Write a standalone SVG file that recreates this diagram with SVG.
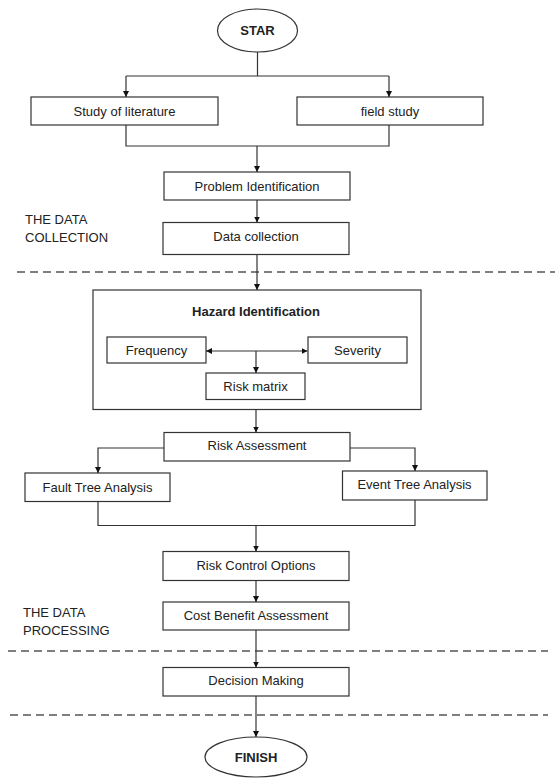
<svg xmlns="http://www.w3.org/2000/svg" width="555" height="778" viewBox="0 0 555 778">
<style>
.box{fill:#fff;stroke:#333;stroke-width:1.2}
.t{font-family:"Liberation Sans",Arial,sans-serif;font-size:13px;fill:#222;text-anchor:middle}
.b{font-weight:bold}
.lbl{font-family:"Liberation Sans",Arial,sans-serif;font-size:13px;fill:#222}
.c{fill:none;stroke:#333;stroke-width:1.2}
.dash{fill:none;stroke:#555;stroke-width:1.5;stroke-dasharray:8 5}
</style>
<defs>
<marker id="ah" viewBox="0 0 10 10" refX="10" refY="5" markerWidth="6" markerHeight="6" markerUnits="userSpaceOnUse" orient="auto-start-reverse">
<path d="M0,0 L10,5 L0,10 z" fill="#111"/>
</marker>
</defs>
<rect width="555" height="778" fill="#fff"/>
<g id="dividers">
<line class="dash" x1="17" y1="272" x2="555" y2="272"/>
<line class="dash" x1="8" y1="651" x2="548" y2="651"/>
<line class="dash" x1="10" y1="715" x2="548" y2="715"/>
</g>
<g id="labels">
<text class="lbl" x="25" y="224">THE DATA</text>
<text class="lbl" x="25" y="242">COLLECTION</text>
<text class="lbl" x="23" y="617">THE DATA</text>
<text class="lbl" x="23" y="635">PROCESSING</text>
</g>
<g id="start">
<ellipse class="box" cx="257.5" cy="30.5" rx="40" ry="21.5"/>
<text class="t b" x="257.5" y="35">STAR</text>
</g>
<g id="literature">
<rect class="box" x="31" y="97" width="187" height="28"/>
<text class="t" x="124.5" y="115.5">Study of literature</text>
</g>
<g id="field">
<rect class="box" x="297" y="97" width="186" height="28"/>
<text class="t" x="390" y="115.5">field study</text>
</g>
<g id="problem">
<rect class="box" x="164" y="172" width="186" height="28"/>
<text class="t" x="257" y="190.5">Problem Identification</text>
</g>
<g id="datacollection">
<rect class="box" x="163" y="222.5" width="186" height="32"/>
<text class="t" x="256" y="241">Data collection</text>
</g>
<g id="hazard">
<rect class="box" x="93" y="290" width="328" height="119.5"/>
<text class="t b" x="256" y="316">Hazard Identification</text>
</g>
<g id="frequency">
<rect class="box" x="107" y="337" width="99" height="26"/>
<text class="t" x="156.5" y="354.5">Frequency</text>
</g>
<g id="severity">
<rect class="box" x="308" y="337" width="99" height="26"/>
<text class="t" x="357.5" y="354.5">Severity</text>
</g>
<g id="riskmatrix">
<rect class="box" x="206" y="373" width="99" height="26.5"/>
<text class="t" x="255.5" y="391">Risk matrix</text>
</g>
<g id="riskassessment">
<rect class="box" x="164" y="432.5" width="186" height="28.5"/>
<text class="t" x="257" y="450">Risk Assessment</text>
</g>
<g id="fta">
<rect class="box" x="25" y="473" width="145" height="28.5"/>
<text class="t" x="97.5" y="491.5">Fault Tree Analysis</text>
</g>
<g id="eta">
<rect class="box" x="342.5" y="471" width="144.5" height="29"/>
<text class="t" x="414.5" y="489">Event Tree Analysis</text>
</g>
<g id="rco">
<rect class="box" x="163" y="551.5" width="186" height="29"/>
<text class="t" x="256" y="570">Risk Control Options</text>
</g>
<g id="cba">
<rect class="box" x="163" y="602" width="186" height="28"/>
<text class="t" x="256" y="620">Cost Benefit Assessment</text>
</g>
<g id="decision">
<rect class="box" x="163" y="667.5" width="186" height="28.5"/>
<text class="t" x="256" y="685">Decision Making</text>
</g>
<g id="finish">
<ellipse class="box" cx="256" cy="757" rx="51" ry="20"/>
<text class="t b" x="256" y="762">FINISH</text>
</g>
<g id="connectors">
<path class="c" d="M257.5,52 V76 M126,76 H389"/>
<path class="c" d="M126,76 V97" marker-end="url(#ah)"/>
<path class="c" d="M389,76 V97" marker-end="url(#ah)"/>
<path class="c" d="M126,125 V146 H389 V125"/>
<path class="c" d="M257,146 V172" marker-end="url(#ah)"/>
<path class="c" d="M257,200 V222.5" marker-end="url(#ah)"/>
<path class="c" d="M257,254.5 V290" marker-end="url(#ah)"/>
<path class="c" d="M206,351 H307.5" marker-start="url(#ah)" marker-end="url(#ah)"/>
<path class="c" d="M256,351 V373" marker-end="url(#ah)"/>
<path class="c" d="M256,409.5 V432.5" marker-end="url(#ah)"/>
<path class="c" d="M164,448 H98 V473" marker-end="url(#ah)"/>
<path class="c" d="M350,448 H415 V471" marker-end="url(#ah)"/>
<path class="c" d="M98,501.5 V525.5 H415 V500"/>
<path class="c" d="M256,525.5 V551.5" marker-end="url(#ah)"/>
<path class="c" d="M256,580.5 V602" marker-end="url(#ah)"/>
<path class="c" d="M256,630 V667.5" marker-end="url(#ah)"/>
<path class="c" d="M256,696 V737" marker-end="url(#ah)"/>
</g>
</svg>
